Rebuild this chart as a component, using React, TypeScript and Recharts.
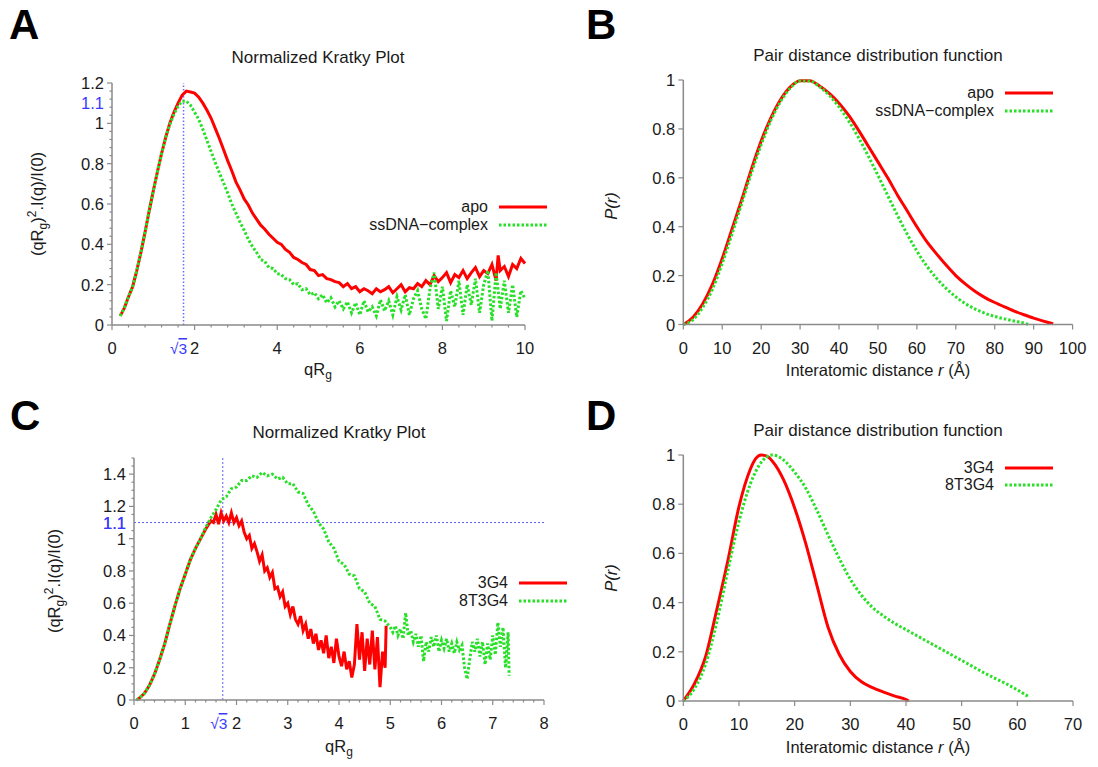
import React from "react";
import { LineChart, Line, XAxis, YAxis, ReferenceLine, Legend } from "recharts";

type Pt = [number, number];

// A: normalized Kratky, apo vs ssDNA complex  [qRg, (qRg)^2 I(q)/I(0)]
const kratkyApoA: Pt[] = [
  [0.2, 0.045], [0.3, 0.085], [0.4, 0.14], [0.5, 0.19], [0.6, 0.27], [0.7, 0.36], [0.8, 0.46], [0.9, 0.565],
  [1.0, 0.665], [1.1, 0.76], [1.2, 0.85], [1.3, 0.93], [1.4, 1.0], [1.5, 1.055], [1.6, 1.1], [1.7, 1.14],
  [1.8, 1.16], [1.9, 1.155], [2.0, 1.15], [2.1, 1.13], [2.2, 1.1], [2.3, 1.065], [2.4, 1.025], [2.5, 0.975],
  [2.6, 0.925], [2.7, 0.87], [2.8, 0.815], [2.9, 0.765], [3.0, 0.71], [3.1, 0.67], [3.2, 0.625], [3.3, 0.595],
  [3.4, 0.555], [3.5, 0.525], [3.6, 0.495], [3.7, 0.475], [3.8, 0.45], [3.9, 0.43], [4.0, 0.41], [4.1, 0.4],
  [4.2, 0.375], [4.3, 0.36], [4.4, 0.335], [4.5, 0.325], [4.6, 0.31], [4.7, 0.3], [4.8, 0.275], [4.9, 0.27],
  [5.0, 0.245], [5.1, 0.25], [5.2, 0.23], [5.3, 0.225], [5.4, 0.215], [5.5, 0.21], [5.6, 0.19], [5.7, 0.205],
  [5.8, 0.18], [5.9, 0.19], [6.0, 0.165], [6.1, 0.18], [6.2, 0.17], [6.3, 0.155], [6.4, 0.18], [6.5, 0.165],
  [6.6, 0.175], [6.7, 0.19], [6.8, 0.16], [6.9, 0.18], [7.0, 0.2], [7.1, 0.165], [7.2, 0.185], [7.3, 0.18],
  [7.4, 0.205], [7.5, 0.19], [7.6, 0.22], [7.7, 0.2], [7.8, 0.245], [7.9, 0.215], [8.0, 0.235], [8.1, 0.26],
  [8.2, 0.21], [8.3, 0.25], [8.4, 0.235], [8.5, 0.27], [8.6, 0.23], [8.7, 0.26], [8.8, 0.285], [8.9, 0.24],
  [9.0, 0.27], [9.1, 0.255], [9.2, 0.3], [9.3, 0.22], [9.35, 0.345], [9.4, 0.27], [9.5, 0.29], [9.6, 0.24],
  [9.7, 0.3], [9.8, 0.28], [9.9, 0.33], [10.0, 0.305],
];
const kratkySsdnaA: Pt[] = [
  [0.2, 0.045], [0.3, 0.085], [0.4, 0.14], [0.5, 0.19], [0.6, 0.27], [0.7, 0.36], [0.8, 0.46], [0.9, 0.565],
  [1.0, 0.665], [1.1, 0.76], [1.2, 0.85], [1.3, 0.93], [1.4, 0.995], [1.5, 1.045], [1.6, 1.085], [1.7, 1.11],
  [1.8, 1.11], [1.9, 1.09], [2.0, 1.055], [2.1, 1.02], [2.2, 0.97], [2.3, 0.915], [2.4, 0.86], [2.5, 0.805],
  [2.6, 0.755], [2.7, 0.705], [2.8, 0.655], [2.9, 0.6], [3.0, 0.555], [3.1, 0.51], [3.2, 0.47], [3.3, 0.425],
  [3.4, 0.39], [3.5, 0.36], [3.6, 0.325], [3.7, 0.315], [3.8, 0.285], [3.9, 0.28], [4.0, 0.255], [4.1, 0.25],
  [4.2, 0.23], [4.3, 0.225], [4.4, 0.2], [4.5, 0.205], [4.6, 0.175], [4.7, 0.18], [4.8, 0.15], [4.9, 0.16],
  [5.0, 0.13], [5.1, 0.15], [5.2, 0.11], [5.3, 0.135], [5.4, 0.09], [5.5, 0.12], [5.6, 0.08], [5.7, 0.115],
  [5.8, 0.06], [5.9, 0.11], [6.0, 0.05], [6.1, 0.12], [6.2, 0.065], [6.3, 0.09], [6.4, 0.045], [6.5, 0.125],
  [6.6, 0.07], [6.7, 0.12], [6.8, 0.05], [6.9, 0.14], [7.0, 0.075], [7.1, 0.15], [7.2, 0.05], [7.3, 0.13],
  [7.4, 0.17], [7.5, 0.08], [7.6, 0.03], [7.7, 0.18], [7.8, 0.26], [7.9, 0.08], [8.0, 0.19], [8.1, 0.02],
  [8.2, 0.17], [8.3, 0.09], [8.4, 0.22], [8.5, 0.05], [8.6, 0.2], [8.7, 0.1], [8.8, 0.23], [8.9, 0.06],
  [9.0, 0.2], [9.1, 0.27], [9.2, 0.02], [9.3, 0.26], [9.4, 0.08], [9.5, 0.22], [9.6, 0.06], [9.7, 0.2],
  [9.8, 0.04], [9.9, 0.17], [10.0, 0.13],
];

// B: pair distance distribution  [r (Å), P(r)]
const prApoB: Pt[] = [
  [0, 0], [2.5, 0.03], [5, 0.085], [7.5, 0.165], [10, 0.27], [12.5, 0.39], [15, 0.51], [17.5, 0.635],
  [20, 0.75], [22.5, 0.845], [25, 0.92], [27.5, 0.972], [30, 0.997], [32.5, 0.997], [35, 0.975], [37.5, 0.945],
  [40, 0.905], [42.5, 0.855], [45, 0.795], [47.5, 0.73], [50, 0.665], [52.5, 0.6], [55, 0.53], [57.5, 0.465],
  [60, 0.4], [62.5, 0.34], [65, 0.29], [67.5, 0.243], [70, 0.2], [72.5, 0.165], [75, 0.135], [77.5, 0.11],
  [80, 0.09], [82.5, 0.072], [85, 0.055], [87.5, 0.04], [90, 0.026], [92.5, 0.014], [95, 0.003],
];
const prSsdnaB: Pt[] = [
  [0, 0], [2.5, 0.02], [5, 0.07], [7.5, 0.145], [10, 0.25], [12.5, 0.37], [15, 0.495], [17.5, 0.62],
  [20, 0.735], [22.5, 0.835], [25, 0.912], [27.5, 0.967], [30, 0.996], [32.5, 0.996], [35, 0.972], [37.5, 0.937],
  [40, 0.89], [42.5, 0.832], [45, 0.765], [47.5, 0.69], [50, 0.61], [52.5, 0.528], [55, 0.447], [57.5, 0.37],
  [60, 0.3], [62.5, 0.24], [65, 0.19], [67.5, 0.148], [70, 0.113], [72.5, 0.085], [75, 0.063], [77.5, 0.046],
  [80, 0.033], [82.5, 0.023], [85, 0.014], [87.5, 0.006], [88.7, 0],
];

// C: normalized Kratky, 3G4 vs 8T3G4
const kratky3G4C: Pt[] = [
  [0.05, 0], [0.1, 0.01], [0.2, 0.04], [0.3, 0.09], [0.4, 0.16], [0.5, 0.25], [0.6, 0.35], [0.7, 0.47],
  [0.8, 0.585], [0.9, 0.69], [1.0, 0.78], [1.1, 0.87], [1.2, 0.94], [1.3, 1.0], [1.4, 1.06], [1.5, 1.11],
  [1.55, 1.1], [1.6, 1.15], [1.65, 1.09], [1.7, 1.16], [1.75, 1.11], [1.8, 1.14], [1.85, 1.1], [1.9, 1.16],
  [1.95, 1.1], [2.0, 1.13], [2.05, 1.08], [2.1, 1.11], [2.15, 1.04], [2.2, 1.0], [2.25, 1.02], [2.3, 0.94],
  [2.35, 0.97], [2.4, 0.92], [2.45, 0.86], [2.5, 0.9], [2.55, 0.8], [2.6, 0.82], [2.65, 0.76], [2.7, 0.79],
  [2.75, 0.69], [2.8, 0.7], [2.85, 0.64], [2.9, 0.67], [2.95, 0.58], [3.0, 0.6], [3.05, 0.53], [3.1, 0.58],
  [3.15, 0.5], [3.2, 0.47], [3.25, 0.52], [3.3, 0.43], [3.35, 0.47], [3.4, 0.38], [3.45, 0.44], [3.5, 0.35],
  [3.55, 0.41], [3.6, 0.31], [3.65, 0.37], [3.7, 0.29], [3.75, 0.4], [3.8, 0.26], [3.85, 0.33], [3.9, 0.23],
  [3.95, 0.38], [4.0, 0.27], [4.05, 0.21], [4.1, 0.3], [4.15, 0.19], [4.2, 0.24], [4.25, 0.14], [4.3, 0.22],
  [4.35, 0.47], [4.4, 0.25], [4.45, 0.42], [4.5, 0.18], [4.55, 0.38], [4.6, 0.22], [4.65, 0.43], [4.7, 0.19],
  [4.75, 0.39], [4.8, 0.08], [4.85, 0.3], [4.9, 0.2], [4.92, 0.46],
];
const kratky8T3G4C: Pt[] = [
  [0.05, 0], [0.1, 0.01], [0.2, 0.04], [0.3, 0.09], [0.4, 0.16], [0.5, 0.25], [0.6, 0.35], [0.7, 0.47],
  [0.8, 0.585], [0.9, 0.69], [1.0, 0.78], [1.1, 0.87], [1.2, 0.94], [1.3, 1.0], [1.4, 1.07], [1.5, 1.13],
  [1.6, 1.18], [1.7, 1.24], [1.8, 1.26], [1.9, 1.31], [2.0, 1.32], [2.1, 1.36], [2.2, 1.36], [2.3, 1.39],
  [2.4, 1.38], [2.5, 1.41], [2.6, 1.39], [2.7, 1.4], [2.8, 1.37], [2.9, 1.38], [3.0, 1.34], [3.1, 1.34],
  [3.2, 1.29], [3.3, 1.28], [3.4, 1.21], [3.5, 1.17], [3.6, 1.1], [3.7, 1.06], [3.8, 0.98], [3.9, 0.94],
  [4.0, 0.86], [4.1, 0.84], [4.2, 0.78], [4.3, 0.77], [4.4, 0.69], [4.5, 0.67], [4.6, 0.6], [4.7, 0.58],
  [4.8, 0.5], [4.9, 0.49], [5.0, 0.45], [5.05, 0.42], [5.1, 0.46], [5.15, 0.4], [5.2, 0.44], [5.25, 0.38],
  [5.3, 0.54], [5.35, 0.4], [5.4, 0.43], [5.45, 0.36], [5.5, 0.41], [5.55, 0.33], [5.6, 0.4], [5.65, 0.24],
  [5.7, 0.36], [5.75, 0.3], [5.8, 0.39], [5.85, 0.33], [5.9, 0.4], [5.95, 0.3], [6.0, 0.37], [6.05, 0.32],
  [6.1, 0.38], [6.15, 0.3], [6.2, 0.35], [6.25, 0.29], [6.3, 0.36], [6.35, 0.31], [6.4, 0.34], [6.45, 0.2],
  [6.5, 0.13], [6.55, 0.25], [6.6, 0.36], [6.65, 0.3], [6.7, 0.38], [6.75, 0.27], [6.8, 0.36], [6.85, 0.22],
  [6.9, 0.35], [6.95, 0.25], [7.0, 0.4], [7.05, 0.28], [7.1, 0.48], [7.15, 0.33], [7.2, 0.45], [7.25, 0.2],
  [7.3, 0.42], [7.32, 0.15],
];

// D: pair distance distribution, 3G4 vs 8T3G4
const pr3G4D: Pt[] = [
  [0, 0], [2, 0.07], [4, 0.18], [6, 0.37], [8, 0.57], [10, 0.79], [12, 0.94], [13, 0.985], [14, 1.0],
  [15, 0.995], [16, 0.975], [18, 0.9], [20, 0.785], [22, 0.64], [24, 0.47], [26, 0.3], [28, 0.19],
  [30, 0.12], [32, 0.078], [34, 0.054], [36, 0.036], [38, 0.02], [40, 0.006], [40.5, 0],
];
const pr8T3G4D: Pt[] = [
  [0, 0], [2, 0.05], [4, 0.15], [6, 0.32], [8, 0.53], [10, 0.73], [12, 0.88], [14, 0.97], [16, 1.0],
  [18, 0.98], [20, 0.93], [22, 0.865], [24, 0.775], [26, 0.675], [28, 0.58], [30, 0.495], [32, 0.43],
  [34, 0.38], [36, 0.345], [38, 0.315], [40, 0.29], [42, 0.265], [44, 0.24], [46, 0.215], [48, 0.19],
  [50, 0.165], [52, 0.14], [54, 0.115], [56, 0.092], [58, 0.07], [60, 0.045], [62, 0.018],
];

// tick labels
const kratkyTicksXA = [0, 2, 4, 6, 8, 10];
const kratkyTicksYA = [0, 0.2, 0.4, 0.6, 0.8, 1, 1.2];
const prTicksXB = [0, 10, 20, 30, 40, 50, 60, 70, 80, 90, 100];
const prTicksY = [0, 0.2, 0.4, 0.6, 0.8, 1];
const kratkyTicksXC = [0, 1, 2, 3, 4, 5, 6, 7, 8];
const kratkyTicksYC = [0, 0.2, 0.4, 0.6, 0.8, 1, 1.2, 1.4];
const prTicksXD = [0, 10, 20, 30, 40, 50, 60, 70];
const SQRT3 = Math.sqrt(3); // Guinier peak position for a compact globule
const PEAK_LEVEL = 1.1;

const FONT = '"Liberation Sans", Arial, Helvetica, sans-serif';
const INK = "#1a1a1a";
const AXIS = "#8a8a8a";
const RED = "#ff0000";
const GREEN = "#27e027";
const GREEN_DASH = "2.5 2";
const BLUE_TEXT = "#3a3aff";
const BLUE_LINE = "#5c5cff";

const seriesLook: Record<string, { color: string; dash?: string }> = {
  apo: { color: RED },
  "ssDNA−complex": { color: GREEN, dash: GREEN_DASH },
  "3G4": { color: RED },
  "8T3G4": { color: GREEN, dash: GREEN_DASH },
};

const rows = (pts: Pt[]) => pts.map(([x, y]) => ({ x, y }));

// gnuplot-style minor tics between the labelled ones
const minorTicks = (majors: number[], parts: number) => {
  const out: number[] = [];
  for (let i = 0; i < majors.length - 1; i++) {
    const step = (majors[i + 1] - majors[i]) / parts;
    for (let k = 1; k < parts; k++) out.push(majors[i] + k * step);
  }
  return out;
};

const near = (a: number, b: number) => Math.abs(a - b) < 1e-6;

function axisTick(axis: "x" | "y", majors: number[], special?: number, specialShift = 3) {
  return (props: any) => {
    const { x, y, payload } = props;
    const v: number = payload.value;
    const textProps = { fontFamily: FONT, fontSize: 16.5, dominantBaseline: "central" as const };
    if (special !== undefined && near(v, special)) {
      return axis === "x" ? (
        <text x={x - specialShift} y={y + 23} textAnchor="middle" fill={BLUE_TEXT} {...textProps} fontSize={15.5}>
          √<tspan textDecoration="overline">3</tspan>
        </text>
      ) : (
        <text x={x - 8} y={y} textAnchor="end" fill={BLUE_TEXT} {...textProps}>
          {String(v)}
        </text>
      );
    }
    const major = majors.some((m) => near(m, v));
    const len = major ? 5 : 2.5;
    if (axis === "x") {
      return (
        <g>
          <line x1={x} y1={y} x2={x} y2={y + len} stroke={AXIS} strokeWidth={1.2} />
          {major && (
            <text x={x} y={y + 23} textAnchor="middle" fill={INK} {...textProps}>
              {String(v)}
            </text>
          )}
        </g>
      );
    }
    return (
      <g>
        <line x1={x} y1={y} x2={x - len} y2={y} stroke={AXIS} strokeWidth={1.2} />
        {major && (
          <text x={x - 8} y={y} textAnchor="end" fill={INK} {...textProps}>
            {String(v)}
          </text>
        )}
      </g>
    );
  };
}

function KeyRows(props: any) {
  const payload: any[] = props.payload ?? [];
  return (
    <div style={{ fontFamily: FONT, fontSize: 16, color: INK }}>
      {payload.map((entry) => {
        const look = seriesLook[entry.value] ?? { color: entry.color };
        return (
          <div
            key={entry.value}
            style={{ display: "flex", justifyContent: "flex-end", alignItems: "center", height: 17.5 }}
          >
            <span>{entry.value}</span>
            <svg width={48} height={6} style={{ marginLeft: 11 }}>
              <line x1={0} y1={3} x2={48} y2={3} stroke={look.color} strokeWidth={3} strokeDasharray={look.dash} />
            </svg>
          </div>
        );
      })}
    </div>
  );
}

const axisLine = { stroke: AXIS, strokeWidth: 1.5 };

function Txt({ x, y, size = 16.5, rotate = false, children }: { x: number; y: number; size?: number; rotate?: boolean; children: React.ReactNode }) {
  return (
    <div
      style={{
        position: "absolute",
        left: x,
        top: y,
        transform: `translate(-50%, -50%)${rotate ? " rotate(-90deg)" : ""}`,
        fontFamily: FONT,
        fontSize: size,
        color: INK,
        whiteSpace: "nowrap",
        lineHeight: 1,
      }}
    >
      {children}
    </div>
  );
}

function PanelLetter({ x, y, children }: { x: number; y: number; children: React.ReactNode }) {
  return (
    <div
      style={{
        position: "absolute",
        left: x,
        top: y,
        fontFamily: FONT,
        fontWeight: 700,
        fontSize: 42,
        lineHeight: "normal",
        color: "#000",
      }}
    >
      {children}
    </div>
  );
}

const sub = { fontSize: 12 };
const KratkyYLabel = () => (
  <span>
    (qR<sub style={sub}>g</sub>)<sup style={sub}>2</sup>.I(q)/I(0)
  </span>
);
const QrgLabel = () => (
  <span>
    qR<sub style={sub}>g</sub>
  </span>
);
const DistLabel = () => (
  <span>
    Interatomic distance <i>r</i> (Å)
  </span>
);
const PrLabel = () => <i>P(r)</i>;

export default function App() {
  return (
    <div style={{ position: "absolute", left: 0, top: 0, width: 1098, height: 767, background: "#fff", overflow: "hidden" }}>
      {/* A */}
      <div style={{ position: "absolute", left: 0, top: 0 }}>
        <LineChart width={560} height={383} margin={{ top: 83, right: 35, bottom: 28, left: 62 }}>
          <XAxis
            type="number" dataKey="x" domain={[0, 10]} height={30}
            ticks={[...kratkyTicksXA, ...minorTicks(kratkyTicksXA, 5), SQRT3]}
            interval={0} tickSize={0} tickMargin={0} tickLine={false} axisLine={axisLine}
            tick={axisTick("x", kratkyTicksXA, SQRT3, 5)}
          />
          <YAxis
            type="number" domain={[0, 1.2]} width={50}
            ticks={[...kratkyTicksYA, ...minorTicks(kratkyTicksYA, 5), PEAK_LEVEL]}
            interval={0} tickSize={0} tickMargin={0} tickLine={false} axisLine={axisLine}
            tick={axisTick("y", kratkyTicksYA, PEAK_LEVEL)}
          />
          <ReferenceLine
            segment={[{ x: SQRT3, y: 0 }, { x: SQRT3, y: 1.2 }]}
            stroke={BLUE_LINE}
            strokeOpacity={0.9}
            strokeWidth={1.5}
            strokeDasharray="1.5 2"
          />
          <Line data={rows(kratkyApoA)} dataKey="y" name="apo" type="linear" stroke={RED} strokeWidth={3} dot={false} isAnimationActive={false} />
          <Line data={rows(kratkySsdnaA)} dataKey="y" name="ssDNA−complex" type="linear" stroke={GREEN} strokeWidth={3} strokeDasharray={GREEN_DASH} dot={false} isAnimationActive={false} />
          <Legend layout="horizontal" verticalAlign="middle" align="center" content={(p: any) => <KeyRows {...p} />} wrapperStyle={{ left: 300, top: 198.5, width: 247 }} />
        </LineChart>
      </div>

      {/* B */}
      <div style={{ position: "absolute", left: 549, top: 0 }}>
        <LineChart width={549} height={383} margin={{ top: 80, right: 25.4, bottom: 28.5, left: 84.3 }}>
          <XAxis
            type="number" dataKey="x" domain={[0, 100]} height={30} ticks={prTicksXB}
            interval={0} tickSize={0} tickMargin={0} tickLine={false} axisLine={axisLine}
            tick={axisTick("x", prTicksXB)}
          />
          <YAxis
            type="number" domain={[0, 1]} width={50} ticks={prTicksY}
            interval={0} tickSize={0} tickMargin={0} tickLine={false} axisLine={axisLine}
            tick={axisTick("y", prTicksY)}
          />
          <Line data={rows(prApoB)} dataKey="y" name="apo" type="monotone" stroke={RED} strokeWidth={3} dot={false} isAnimationActive={false} />
          <Line data={rows(prSsdnaB)} dataKey="y" name="ssDNA−complex" type="monotone" stroke={GREEN} strokeWidth={3} strokeDasharray={GREEN_DASH} dot={false} isAnimationActive={false} />
          <Legend layout="horizontal" verticalAlign="middle" align="center" content={(p: any) => <KeyRows {...p} />} wrapperStyle={{ left: 244, top: 84.5, width: 260 }} />
        </LineChart>
      </div>

      {/* C */}
      <div style={{ position: "absolute", left: 0, top: 383 }}>
        <LineChart width={590} height={384} margin={{ top: 75, right: 46, bottom: 37, left: 84 }}>
          <XAxis
            type="number" dataKey="x" domain={[0, 8]} height={30}
            ticks={[...kratkyTicksXC, ...minorTicks(kratkyTicksXC, 5), SQRT3]}
            interval={0} tickSize={0} tickMargin={0} tickLine={false} axisLine={axisLine}
            tick={axisTick("x", kratkyTicksXC, SQRT3, 4)}
          />
          <YAxis
            type="number" domain={[0, 1.5]} width={50}
            ticks={[...kratkyTicksYC, ...minorTicks([...kratkyTicksYC, 1.6], 4).filter((v) => v <= 1.5 + 1e-9), PEAK_LEVEL]}
            interval={0} tickSize={0} tickMargin={0} tickLine={false} axisLine={axisLine}
            tick={axisTick("y", kratkyTicksYC, PEAK_LEVEL)}
          />
          <ReferenceLine x={SQRT3} stroke={BLUE_LINE} strokeWidth={1} strokeDasharray="2 2" />
          <ReferenceLine y={PEAK_LEVEL} stroke={BLUE_LINE} strokeWidth={1} strokeDasharray="2 2" />
          <Line data={rows(kratky3G4C)} dataKey="y" name="3G4" type="linear" stroke={RED} strokeWidth={3} dot={false} isAnimationActive={false} />
          <Line data={rows(kratky8T3G4C)} dataKey="y" name="8T3G4" type="linear" stroke={GREEN} strokeWidth={3} strokeDasharray={GREEN_DASH} dot={false} isAnimationActive={false} />
          <Legend layout="horizontal" verticalAlign="middle" align="center" content={(p: any) => <KeyRows {...p} />} wrapperStyle={{ left: 317, top: 191.5, width: 250 }} />
        </LineChart>
      </div>

      {/* D */}
      <div style={{ position: "absolute", left: 549, top: 383 }}>
        <LineChart width={549} height={384} margin={{ top: 72, right: 25, bottom: 36, left: 84.3 }}>
          <XAxis
            type="number" dataKey="x" domain={[0, 70]} height={30} ticks={prTicksXD}
            interval={0} tickSize={0} tickMargin={0} tickLine={false} axisLine={axisLine}
            tick={axisTick("x", prTicksXD)}
          />
          <YAxis
            type="number" domain={[0, 1]} width={50} ticks={prTicksY}
            interval={0} tickSize={0} tickMargin={0} tickLine={false} axisLine={axisLine}
            tick={axisTick("y", prTicksY)}
          />
          <Line data={rows(pr3G4D)} dataKey="y" name="3G4" type="monotone" stroke={RED} strokeWidth={3} dot={false} isAnimationActive={false} />
          <Line data={rows(pr8T3G4D)} dataKey="y" name="8T3G4" type="monotone" stroke={GREEN} strokeWidth={3} strokeDasharray={GREEN_DASH} dot={false} isAnimationActive={false} />
          <Legend layout="horizontal" verticalAlign="middle" align="center" content={(p: any) => <KeyRows {...p} />} wrapperStyle={{ left: 244, top: 76, width: 260 }} />
        </LineChart>
      </div>

      {/* titles, axis names, panel letters */}
      <PanelLetter x={9} y={1}>A</PanelLetter>
      <PanelLetter x={586} y={1}>B</PanelLetter>
      <PanelLetter x={10} y={392}>C</PanelLetter>
      <PanelLetter x={586} y={392}>D</PanelLetter>

      <Txt x={318} y={57} size={17}>Normalized Kratky Plot</Txt>
      <Txt x={878} y={55} size={17}>Pair distance distribution function</Txt>
      <Txt x={339} y={432} size={17}>Normalized Kratky Plot</Txt>
      <Txt x={878} y={430} size={17}>Pair distance distribution function</Txt>

      <Txt x={318} y={371}><QrgLabel /></Txt>
      <Txt x={878} y={370}><DistLabel /></Txt>
      <Txt x={339} y={748}><QrgLabel /></Txt>
      <Txt x={878} y={747}><DistLabel /></Txt>

      <Txt x={37} y={204} rotate><KratkyYLabel /></Txt>
      <Txt x={611} y={206} rotate><PrLabel /></Txt>
      <Txt x={54} y={581} rotate><KratkyYLabel /></Txt>
      <Txt x={611} y={578} rotate><PrLabel /></Txt>
    </div>
  );
}
